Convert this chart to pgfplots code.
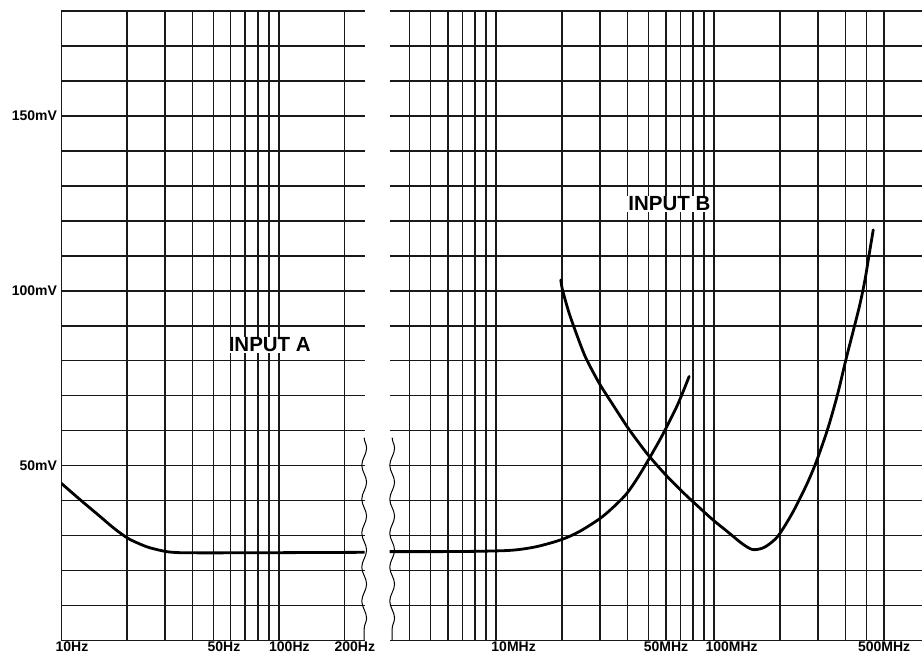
\documentclass[border=0pt]{standalone}
\usepackage{pgfplots}
\pgfplotsset{compat=1.18}
\usepackage{fontspec}
\setmainfont{Liberation Sans}
\usetikzlibrary{decorations.pathmorphing}
\pgfplotsset{
  curve/.style={black, line width=2.8pt, line join=round, line cap=round, smooth, tension=0.5, no marks},
}
\begin{document}
\begin{tikzpicture}
\path (0pt,0pt) rectangle (923pt,660pt);
% left panel (Hz)
\begin{axis}[xmode=log, scale only axis, height=630pt,
  ymin=0, ymax=180, anchor=south west,
  axis line style={draw=none},
  grid=both,
  major grid style={black!90, line width=1.6pt},
  minor grid style={black!90, line width=1.6pt},
  major tick length=0pt, minor tick length=0pt,
  ytick={50,100,150},
  minor ytick={0,10,...,180},
  ticklabel style={font=\bfseries\fontsize{14}{14}\selectfont, text=black},
  xticklabel style={inner sep=0pt, yshift=-1.5pt, xshift=10.5pt},
  at={(61.5pt,19pt)}, width=303.5pt,
  xmin=10, xmax=248,
  xtick={10,50,100,200}, xticklabels={10Hz,50Hz,100Hz,200Hz},
  minor xtick={20,30,40,60,70,80,90},
  yticklabels={50mV,100mV,150mV},
  yticklabel style={anchor=east, xshift=-1pt},
]
\addplot[curve] coordinates {
 (10,44.9) (12.16,40.3) (15.02,35.5) (17.5,32.0) (20.1,29.3) (22.7,27.7) (25.5,26.5)
 (30.4,25.4) (35,25.1) (40,25.05) (60,25.05) (100,25.1) (160,25.15) (248,25.2)
};
\end{axis}
% right panel (MHz)
\begin{axis}[xmode=log, scale only axis, height=630pt,
  ymin=0, ymax=180, anchor=south west,
  axis line style={draw=none},
  grid=both,
  major grid style={black!90, line width=1.6pt},
  minor grid style={black!90, line width=1.6pt},
  major tick length=0pt, minor tick length=0pt,
  ytick={50,100,150},
  minor ytick={0,10,...,180},
  ticklabel style={font=\bfseries\fontsize{14}{14}\selectfont, text=black},
  xticklabel style={inner sep=0pt, yshift=-1.5pt, xshift=17.5pt},
  yticklabel style={opacity=0},
  at={(390pt,19pt)}, width=533pt,
  xmin=3.25, xmax=899.5,
  xtick={10,50,100,500}, xticklabels={10MHz,50MHz,100MHz,500MHz},
  minor xtick={4,5,6,7,8,9,20,30,40,60,70,80,90,200,300,400,600},
]
\addplot[curve] coordinates {
 (3.25,25.4) (5.48,25.4) (8.36,25.5) (11.84,25.8) (15.26,26.8) (19.87,28.8)
 (24.03,31.1) (29.68,34.7) (34.05,37.8) (39.48,41.8) (44.36,46.3) (49.80,51.5)
 (55.94,57.0) (60.24,60.8) (66.93,66.5) (71.33,70.5) (76.80,75.5)
};
\addplot[curve] coordinates {
 (19.81,103.1) (20.15,100.3) (21.62,93.6) (23.60,86.9) (25.79,80.8) (29.68,73.6)
 (34.16,67.6) (40.03,61.0) (45.29,56.4) (50.32,52.7) (60.04,47.3) (71.54,42.5)
 (82.45,38.9) (98.22,34.6) (117.2,30.7) (134.9,27.6) (149.9,26.0) (166.6,26.4)
 (182.0,27.9) (198.7,30.3) (228.7,36.5) (263.4,44.1) (292.7,50.8) (330.9,60.3)
 (367.8,70.3) (401.9,80.3) (438.7,89.6) (467.4,96.5) (492.8,103.5) (514.0,110.5)
 (536.3,117.4)
};
\end{axis}
\draw[black, line width=1pt, decorate, decoration={snake, amplitude=2.4pt, segment length=34pt}] (364.5pt,222pt) -- (364.5pt,19pt);
\draw[black, line width=1pt, decorate, decoration={snake, amplitude=2.4pt, segment length=34pt}] (392.5pt,222pt) -- (392.5pt,19pt);
\node[fill=white, inner sep=1pt, font=\bfseries\fontsize{20.5}{20.5}\selectfont] at (270pt,315pt) {INPUT A};
\node[fill=white, inner sep=1pt, font=\bfseries\fontsize{20.5}{20.5}\selectfont] at (670pt,456pt) {INPUT B};
\end{tikzpicture}
\end{document}
